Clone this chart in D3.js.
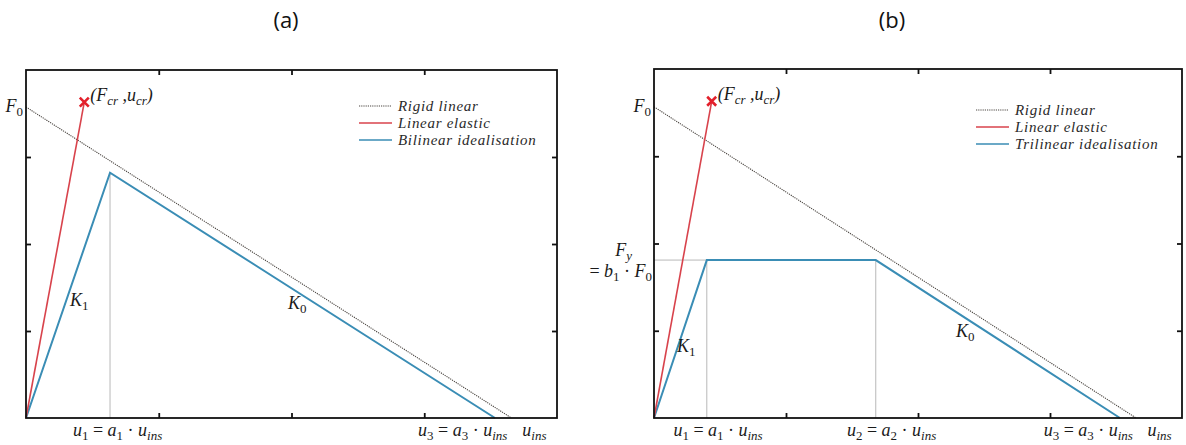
<!DOCTYPE html>
<html>
<head>
<meta charset="utf-8">
<script src="https://cdn.jsdelivr.net/npm/d3@7"></script>
<style>
  html, body { margin: 0; padding: 0; background: #fff; }
  svg { display: block; }
  .math { font-family: "Liberation Serif", serif; font-style: italic; fill: #1a1a1a; }
  .legend { font-family: "Liberation Serif", serif; font-style: italic; font-size: 15px; letter-spacing: 0.7px; fill: #2a2a2a; }
  .title { font-family: "Open Sans", sans-serif; font-size: 22px; fill: #111; }
</style>
</head>
<body>
<svg id="chart" width="1186" height="445"></svg>
<script>
// Normalised force–displacement axes (displacement / force units 0..4)
const xTicks = [1, 2, 3];
const yTicks = [1, 2, 3];

// Panel (a): bilinear idealisation
const rigidA = [[0, 3.575], [3.657, 0]];
const elasticA = [[0, 0], [0.439, 3.63]];
const bilinearA = [[0, 0], [0.633, 2.82], [3.533, 0]];
const crackA = [0.439, 3.63];
const guidesA = [0.633];
const legendA = ["Rigid linear", "Linear elastic", "Bilinear idealisation"];

// Panel (b): trilinear idealisation
const rigidB = [[0, 3.567], [3.652, 0]];
const elasticB = [[0, 0], [0.437, 3.63]];
const trilinearB = [[0, 0], [0.40, 1.81], [1.68, 1.81], [3.53, 0]];
const crackB = [0.437, 3.63];
const guidesB = [0.40, 1.68];
const legendB = ["Rigid linear", "Linear elastic", "Trilinear idealisation"];

// Displacement labels under the axis: [position, symbol index]
const xLabelsA = [[0.69, "1"], [3.29, "3"]];
const xLabelsB = [[0.485, "1"], [1.80, "2"], [3.29, "3"]];
const uInsPos = 3.83;

const svg = d3.select("#chart");

// Helper: write italic math with upright subscripts and operators
function mathText(sel, parts, size) {
  parts.forEach(p => {
    const t = sel.append("tspan").text(p.t);
    if (p.sub) t.attr("font-size", size * 0.72).attr("dy", size * 0.22);
    if (p.up) t.attr("font-style", "normal");
    if (p.back) t.attr("dy", -size * 0.22);
  });
  return sel;
}
function subParts(main, sub) {
  return [{ t: main }, { t: sub, sub: true, up: /^[0-9]+$/.test(sub) }];
}

function drawPanel(cfg) {
  const g = svg.append("g");
  const x = d3.scaleLinear().domain([0, 4]).range([cfg.left, cfg.right]);
  const y = d3.scaleLinear().domain([0, 4]).range([cfg.bottom, cfg.top]);
  const line = d3.line().x(d => x(d[0])).y(d => y(d[1]));

  // Guide lines (thin grey)
  cfg.guides.forEach(u => {
    const yTop = cfg.plateau != null ? cfg.plateau : cfg.series[1][1];
    g.append("line")
      .attr("x1", x(u)).attr("x2", x(u))
      .attr("y1", y(0)).attr("y2", y(yTop))
      .attr("stroke", "#b8b8b8").attr("stroke-width", 1);
  });
  if (cfg.plateau != null) {
    g.append("line")
      .attr("x1", x(0)).attr("x2", x(cfg.guides[0]))
      .attr("y1", y(cfg.plateau)).attr("y2", y(cfg.plateau))
      .attr("stroke", "#b8b8b8").attr("stroke-width", 1);
  }

  // Rigid linear (dotted)
  g.append("path").datum(cfg.rigid).attr("d", line)
    .attr("fill", "none").attr("stroke", "#4a4540").attr("stroke-width", 1.1)
    .attr("stroke-dasharray", "1.2,1");
  // Idealisation (blue)
  g.append("path").datum(cfg.series).attr("d", line)
    .attr("fill", "none").attr("stroke", "#3a8db5").attr("stroke-width", 2)
    .attr("stroke-linejoin", "miter");
  // Linear elastic (red)
  g.append("path").datum(cfg.elastic).attr("d", line)
    .attr("fill", "none").attr("stroke", "#d8434c").attr("stroke-width", 1.6);
  // Cracking point marker
  const cx = x(cfg.crack[0]), cy = y(cfg.crack[1]), s = 4.5;
  g.append("path")
    .attr("d", `M${cx - s},${cy - s}L${cx + s},${cy + s}M${cx - s},${cy + s}L${cx + s},${cy - s}`)
    .attr("stroke", "#e3202b").attr("stroke-width", 2.6).attr("fill", "none");
  mathText(g.append("text").attr("class", "math").attr("font-size", 18)
    .attr("x", cx + 6).attr("y", cy - 1),
    [{ t: "(F" }, { t: "cr", sub: true }, { t: " ,u", back: true }, { t: "cr", sub: true }, { t: ")", back: true }], 18);

  // Frame with inward ticks
  g.append("rect")
    .attr("x", cfg.left).attr("y", cfg.top)
    .attr("width", cfg.right - cfg.left).attr("height", cfg.bottom - cfg.top)
    .attr("fill", "none").attr("stroke", "#111").attr("stroke-width", 1.8);
  const tl = 5;
  const axB = d3.axisBottom(x).tickValues(xTicks).tickSizeInner(-tl).tickSizeOuter(0).tickFormat("");
  const axT = d3.axisTop(x).tickValues(xTicks).tickSizeInner(-tl).tickSizeOuter(0).tickFormat("");
  const axL = d3.axisLeft(y).tickValues(yTicks).tickSizeInner(-tl).tickSizeOuter(0).tickFormat("");
  const axR = d3.axisRight(y).tickValues(yTicks).tickSizeInner(-tl).tickSizeOuter(0).tickFormat("");
  [[axB, `translate(0,${cfg.bottom})`], [axT, `translate(0,${cfg.top})`],
   [axL, `translate(${cfg.left},0)`], [axR, `translate(${cfg.right},0)`]].forEach(([ax, tr]) => {
    const a = g.append("g").attr("transform", tr).call(ax);
    a.select(".domain").remove();
    a.selectAll("line").attr("stroke", "#111").attr("stroke-width", 1.8);
  });

  // F0 label on the force axis
  mathText(g.append("text").attr("class", "math").attr("font-size", 18)
    .attr("text-anchor", "end").attr("x", cfg.left - 3).attr("y", y(cfg.rigid[0][1]) + 5),
    subParts("F", "0"), 18);

  // Displacement labels
  const fs = 18;
  cfg.xLabels.forEach(([pos, k]) => {
    mathText(g.append("text").attr("class", "math").attr("font-size", fs)
      .attr("text-anchor", "middle").attr("x", x(pos)).attr("y", 436),
      [{ t: "u" }, { t: k, sub: true, up: true }, { t: " = ", up: true, back: true },
       { t: "a" }, { t: k, sub: true, up: true }, { t: " · ", up: true, back: true },
       { t: "u" }, { t: "ins", sub: true }], fs);
  });
  mathText(g.append("text").attr("class", "math").attr("font-size", fs)
    .attr("text-anchor", "middle").attr("x", x(uInsPos)).attr("y", 436),
    [{ t: "u" }, { t: "ins", sub: true }], fs);

  // Stiffness labels
  cfg.kLabels.forEach(([px, py, k]) => {
    mathText(g.append("text").attr("class", "math").attr("font-size", 18)
      .attr("x", px).attr("y", py), subParts("K", k), 18);
  });

  // Legend
  const colors = ["#4a4540", "#d8434c", "#3a8db5"];
  cfg.legend.forEach((name, i) => {
    const ly = cfg.legendRows[i];
    g.append("line")
      .attr("x1", cfg.legendX).attr("x2", cfg.legendX + 33)
      .attr("y1", ly).attr("y2", ly)
      .attr("stroke", colors[i]).attr("stroke-width", i === 0 ? 1.1 : 1.6)
      .attr("stroke-dasharray", i === 0 ? "1.2,1" : null);
    g.append("text").attr("class", "legend")
      .attr("x", cfg.legendX + 39).attr("y", ly + 5).text(name);
  });

  // Panel title
  g.append("text").attr("class", "title").attr("text-anchor", "middle")
    .attr("x", cfg.titleX).attr("y", 28).text(cfg.title);
  return { g, x, y };
}

drawPanel({
  left: 26, right: 557, top: 70, bottom: 418,
  rigid: rigidA, elastic: elasticA, series: bilinearA, crack: crackA,
  guides: guidesA, plateau: null,
  xLabels: xLabelsA,
  kLabels: [[70, 306, "1"], [288, 309, "0"]],
  legend: legendA, legendX: 359, legendRows: [106, 123, 140],
  title: "(a)", titleX: 286
});

const pb = drawPanel({
  left: 654, right: 1182, top: 69, bottom: 418,
  rigid: rigidB, elastic: elasticB, series: trilinearB, crack: crackB,
  guides: guidesB, plateau: trilinearB[1][1],
  xLabels: xLabelsB,
  kLabels: [[677, 352, "1"], [956, 337, "0"]],
  legend: legendB, legendX: 976, legendRows: [110, 127, 144],
  title: "(b)", titleX: 892
});

// Yield force annotation on panel (b)
const fyY = pb.y(trilinearB[1][1]);
mathText(pb.g.append("text").attr("class", "math").attr("font-size", 18)
  .attr("text-anchor", "end").attr("x", 632).attr("y", fyY - 4),
  subParts("F", "y"), 18);
mathText(pb.g.append("text").attr("class", "math").attr("font-size", 18)
  .attr("text-anchor", "end").attr("x", 652).attr("y", fyY + 17),
  [{ t: "= ", up: true }, { t: "b" }, { t: "1", sub: true, up: true }, { t: " · ", up: true, back: true },
   { t: "F" }, { t: "0", sub: true, up: true }], 18);
</script>
</body>
</html>
